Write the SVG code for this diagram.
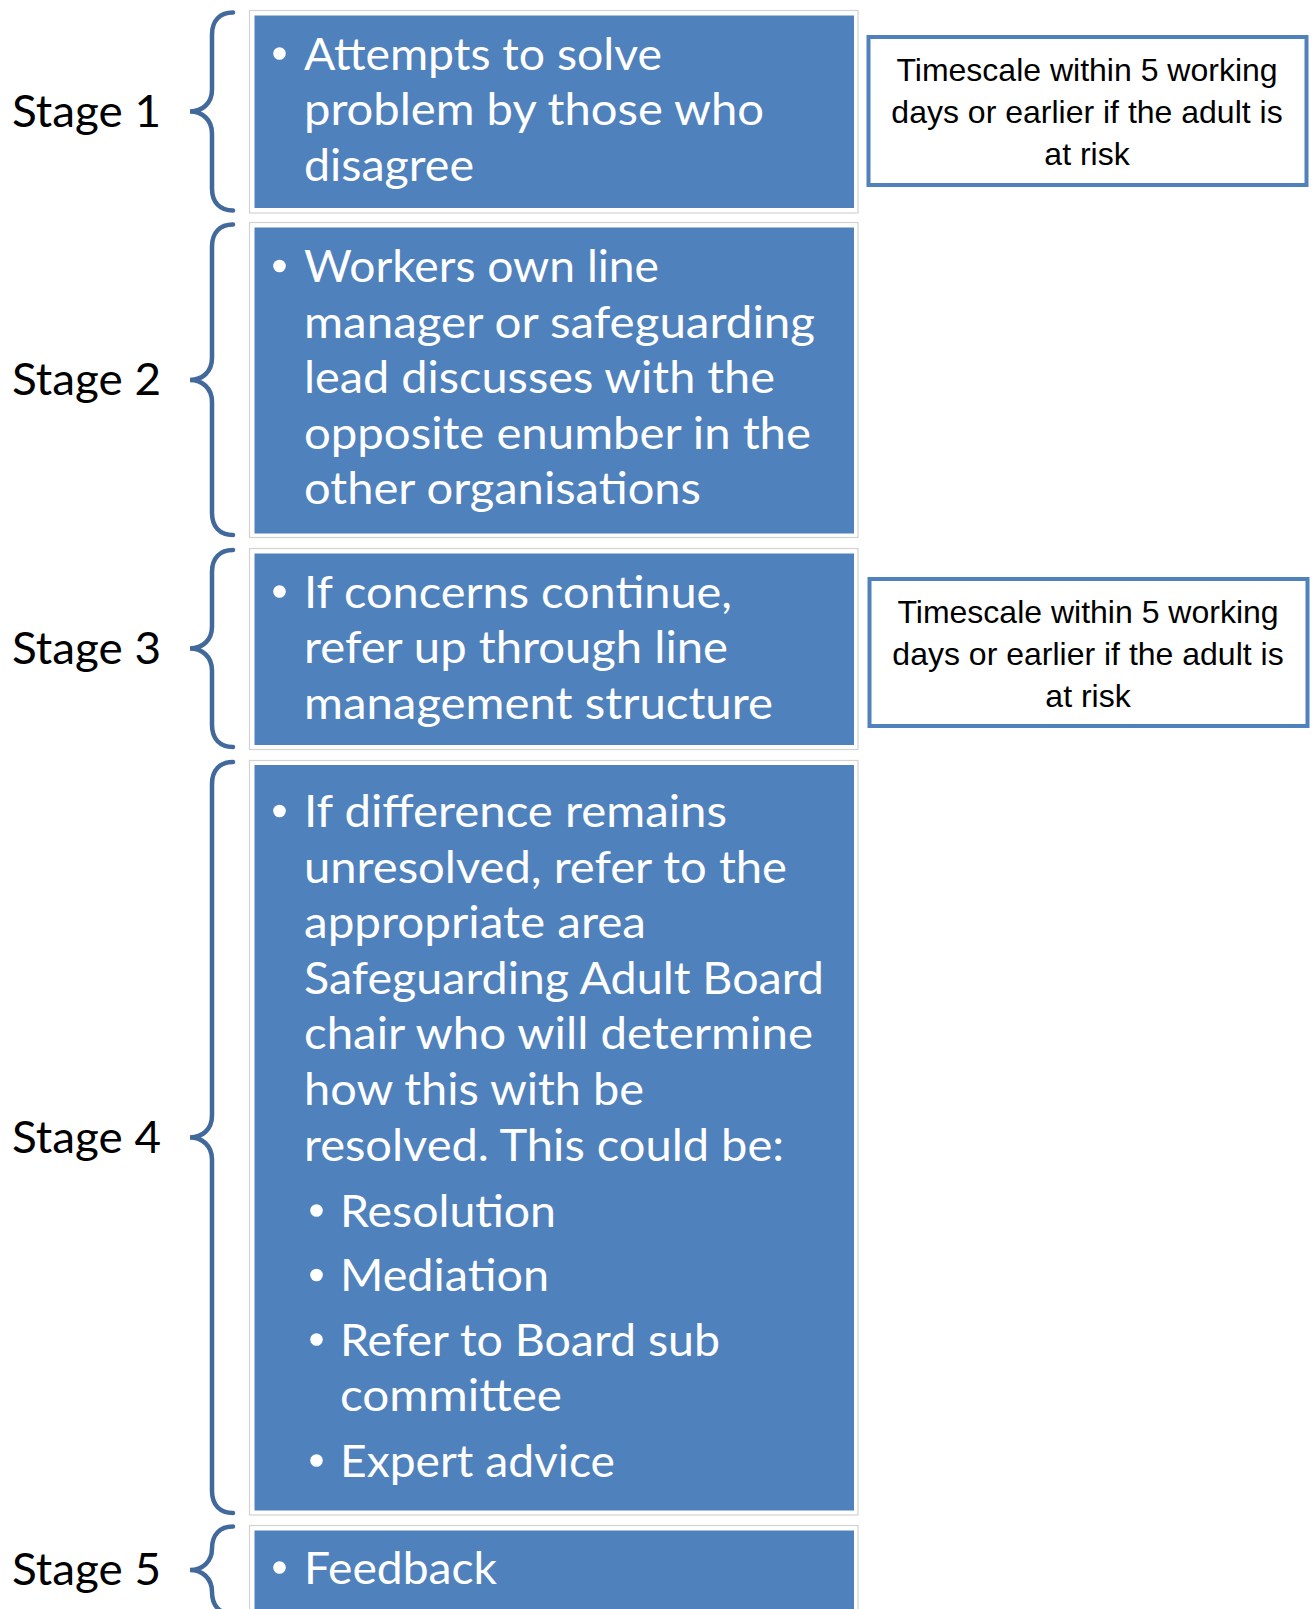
<svg xmlns="http://www.w3.org/2000/svg" width="1315" height="1609" viewBox="0 0 1315 1609">
<style>
.frame{fill:#ffffff;stroke:#d2d2d2;stroke-width:1.2}
.blue{fill:#4f81bd}
.bt{font-family:Lato,"Open Sans","Liberation Sans",sans-serif;font-size:45px;fill:#ffffff}
.st{font-family:Lato,"Open Sans","Liberation Sans",sans-serif;font-size:45px;fill:#000000}
.dot{fill:#ffffff}
.brace{fill:none;stroke:#41699b;stroke-width:4.5;stroke-linecap:round}
.tbox{fill:#ffffff;stroke:#4f81bd;stroke-width:4}
.tt{font-family:"Liberation Sans",Arial,sans-serif;font-size:32px;fill:#000000;text-anchor:middle}
</style>
<rect width="1315" height="1609" fill="#ffffff"/>

<g id="braces">
<path class="brace" d="M233 12.5 C220 12.5 212 20.5 212 34.5 L212 89.5 C212 103.5 202 111.5 190 111.5 C202 111.5 212 119.5 212 133.5 L212 188.5 C212 202.5 220 210.5 233 210.5"/>
<path class="brace" d="M233 224.5 C220 224.5 212 232.5 212 246.5 L212 358 C212 372 202 380 190 380 C202 380 212 388 212 402 L212 513 C212 527 220 535 233 535"/>
<path class="brace" d="M233 550 C220 550 212 558 212 572 L212 626.5 C212 640.5 202 648.5 190 648.5 C202 648.5 212 656.5 212 670.5 L212 725 C212 739 220 747 233 747"/>
<path class="brace" d="M233 762 C220 762 212 770 212 784 L212 1115.5 C212 1129.5 202 1137.5 190 1137.5 C202 1137.5 212 1145.5 212 1159.5 L212 1491 C212 1505 220 1513 233 1513"/>
<path class="brace" d="M233 1526.5 C220 1526.5 212 1534.5 212 1548.5 C212 1562 202 1570 190 1570 C202 1570 212 1578 212 1592 C212 1606 220 1614 233 1614"/>
</g>

<g id="stage1">
<text class="st" x="12" y="126.5" textLength="149" lengthAdjust="spacingAndGlyphs">Stage 1</text>
<rect class="frame" x="249.5" y="10.5" width="608.5" height="202.5"/>
<rect class="blue" x="254.5" y="15.5" width="599.5" height="192.5"/>
<circle class="dot" cx="279.5" cy="53.5" r="6.3"/>
<text class="bt" x="304" y="69.5" textLength="358" lengthAdjust="spacingAndGlyphs">Attempts to solve</text>
<text class="bt" x="304" y="125" textLength="460" lengthAdjust="spacingAndGlyphs">problem by those who</text>
<text class="bt" x="304" y="180.5" textLength="170" lengthAdjust="spacingAndGlyphs">disagree</text>
</g>

<g id="timescale1">
<rect class="tbox" x="868.5" y="37" width="438" height="148"/>
<text class="tt" x="1087" y="80.5">Timescale within 5 working</text>
<text class="tt" x="1087" y="122.5">days or earlier if the adult is</text>
<text class="tt" x="1087" y="164.5">at risk</text>
</g>

<g id="stage2">
<text class="st" x="12" y="395" textLength="149" lengthAdjust="spacingAndGlyphs">Stage 2</text>
<rect class="frame" x="249.5" y="222.5" width="608.5" height="315"/>
<rect class="blue" x="254.5" y="227.5" width="599.5" height="306"/>
<circle class="dot" cx="279.5" cy="266" r="6.3"/>
<text class="bt" x="304" y="282" textLength="355" lengthAdjust="spacingAndGlyphs">Workers own line</text>
<text class="bt" x="304" y="337.6" textLength="511" lengthAdjust="spacingAndGlyphs">manager or safeguarding</text>
<text class="bt" x="304" y="393.2" textLength="471" lengthAdjust="spacingAndGlyphs">lead discusses with the</text>
<text class="bt" x="304" y="448.8" textLength="507" lengthAdjust="spacingAndGlyphs">opposite enumber in the</text>
<text class="bt" x="304" y="504.4" textLength="397" lengthAdjust="spacingAndGlyphs">other organisations</text>
</g>

<g id="stage3">
<text class="st" x="12" y="663.5" textLength="149" lengthAdjust="spacingAndGlyphs">Stage 3</text>
<rect class="frame" x="249.5" y="548.5" width="608.5" height="201"/>
<rect class="blue" x="254.5" y="553.5" width="599.5" height="191.5"/>
<circle class="dot" cx="279.5" cy="591.5" r="6.3"/>
<text class="bt" x="304" y="607.5" textLength="428" lengthAdjust="spacingAndGlyphs">If concerns continue,</text>
<text class="bt" x="304" y="663" textLength="424" lengthAdjust="spacingAndGlyphs">refer up through line</text>
<text class="bt" x="304" y="718.5" textLength="469" lengthAdjust="spacingAndGlyphs">management structure</text>
</g>

<g id="timescale2">
<rect class="tbox" x="869.5" y="579" width="438" height="147"/>
<text class="tt" x="1088" y="622.5">Timescale within 5 working</text>
<text class="tt" x="1088" y="664.5">days or earlier if the adult is</text>
<text class="tt" x="1088" y="706.5">at risk</text>
</g>

<g id="stage4">
<text class="st" x="12" y="1152.5" textLength="149" lengthAdjust="spacingAndGlyphs">Stage 4</text>
<rect class="frame" x="249.5" y="760.5" width="608.5" height="754.5"/>
<rect class="blue" x="254.5" y="765" width="599.5" height="745.5"/>
<circle class="dot" cx="279.5" cy="811" r="6.3"/>
<text class="bt" x="304" y="827" textLength="423" lengthAdjust="spacingAndGlyphs">If difference remains</text>
<text class="bt" x="304" y="882.5" textLength="483" lengthAdjust="spacingAndGlyphs">unresolved, refer to the</text>
<text class="bt" x="304" y="938" textLength="342" lengthAdjust="spacingAndGlyphs">appropriate area</text>
<text class="bt" x="304" y="993.5" textLength="520" lengthAdjust="spacingAndGlyphs">Safeguarding Adult Board</text>
<text class="bt" x="304" y="1049" textLength="509" lengthAdjust="spacingAndGlyphs">chair who will determine</text>
<text class="bt" x="304" y="1104.5" textLength="340" lengthAdjust="spacingAndGlyphs">how this with be</text>
<text class="bt" x="304" y="1160.5" textLength="480" lengthAdjust="spacingAndGlyphs">resolved. This could be:</text>
<circle class="dot" cx="316.5" cy="1210.5" r="6.3"/>
<text class="bt" x="340" y="1226.5" textLength="216" lengthAdjust="spacingAndGlyphs">Resolution</text>
<circle class="dot" cx="316.5" cy="1275" r="6.3"/>
<text class="bt" x="340" y="1291" textLength="209" lengthAdjust="spacingAndGlyphs">Mediation</text>
<circle class="dot" cx="316.5" cy="1339.5" r="6.3"/>
<text class="bt" x="340" y="1355.5" textLength="380" lengthAdjust="spacingAndGlyphs">Refer to Board sub</text>
<text class="bt" x="340" y="1411" textLength="222" lengthAdjust="spacingAndGlyphs">committee</text>
<circle class="dot" cx="316.5" cy="1460.5" r="6.3"/>
<text class="bt" x="340" y="1476.5" textLength="275" lengthAdjust="spacingAndGlyphs">Expert advice</text>
</g>

<g id="stage5">
<text class="st" x="12" y="1585" textLength="149" lengthAdjust="spacingAndGlyphs">Stage 5</text>
<rect class="frame" x="249.5" y="1525.5" width="608.5" height="100"/>
<rect class="blue" x="254.5" y="1530.5" width="599.5" height="95"/>
<circle class="dot" cx="279.5" cy="1567.5" r="6.3"/>
<text class="bt" x="304" y="1583.5" textLength="193" lengthAdjust="spacingAndGlyphs">Feedback</text>
</g>
</svg>
